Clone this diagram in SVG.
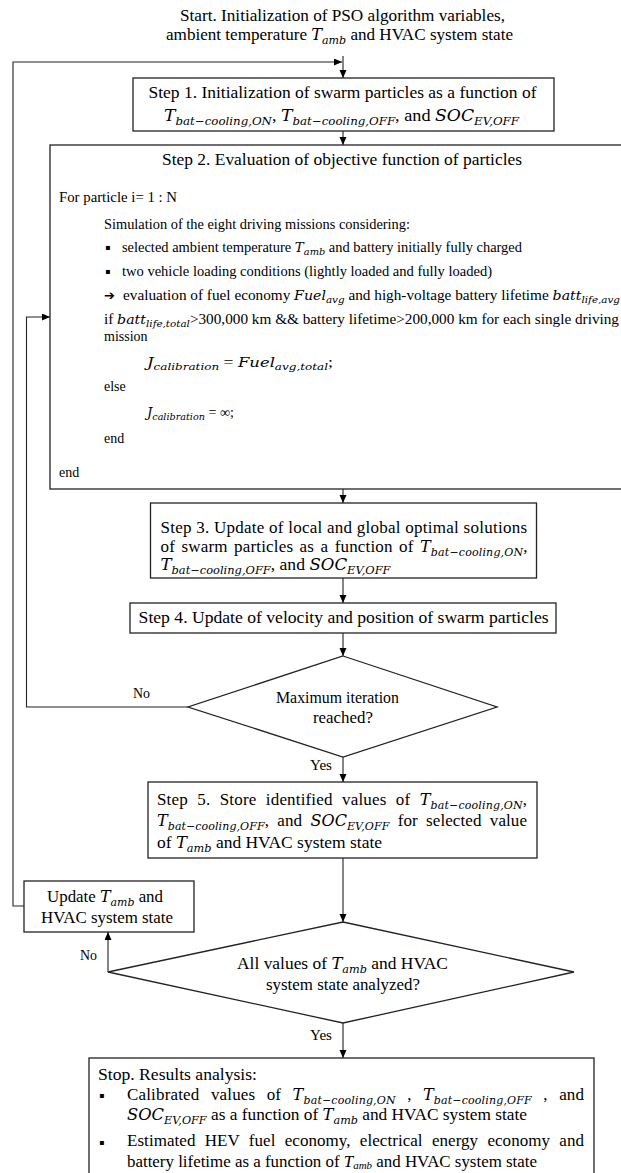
<svg xmlns="http://www.w3.org/2000/svg" width="621" height="1173" viewBox="0 0 621 1173">
<defs>
<style>
.t{font-family:"Liberation Serif","Times New Roman",serif;font-size:17px;fill:#000}
.b{font-size:14px}
.m{font-family:"DejaVu Serif","Liberation Serif",serif;font-style:italic;font-size:16px}
.s{font-family:"DejaVu Serif","Liberation Serif",serif;font-size:11px;font-style:italic}
.li{font-style:italic}
.bm{font-family:"DejaVu Serif","Liberation Serif",serif;font-style:italic;font-size:13px}
.bs{font-family:"DejaVu Serif","Liberation Serif",serif;font-size:9.5px;font-style:italic}
.bul{font-family:"DejaVu Sans",sans-serif;font-size:8px;fill:#000}
.arr{font-family:"DejaVu Sans",sans-serif;font-size:13px;font-weight:bold;fill:#000}
.box{fill:#fff;stroke:#222;stroke-width:1.3}
.ln{fill:none;stroke:#222;stroke-width:1.1}
</style>
<marker id="ah" markerWidth="9" markerHeight="8" refX="8" refY="3.5" orient="auto" markerUnits="userSpaceOnUse"><path d="M0,0 L8,3.5 L0,7 z" fill="#000"/></marker>
</defs>
<rect width="621" height="1173" fill="#fff"/>

<g id="start">
<text class="t" x="180" y="21" textLength="325" lengthAdjust="spacingAndGlyphs">Start. Initialization of PSO algorithm variables,</text>
<text class="t" x="166" y="40" textLength="347" lengthAdjust="spacingAndGlyphs">ambient temperature <tspan class="m">T</tspan><tspan class="s" dy="4">amb</tspan><tspan dy="-4"> and HVAC system state</tspan></text>
</g>

<g id="connectors">
<path class="ln" d="M343,56 L343,78" marker-end="url(#ah)"/>
<path class="ln" d="M24,906 L13,906 L13,62 L342,62" marker-end="url(#ah)"/>
<path class="ln" d="M343,131 L343,145" marker-end="url(#ah)"/>
<path class="ln" d="M343,489 L343,503" marker-end="url(#ah)"/>
<path class="ln" d="M343,578 L343,603" marker-end="url(#ah)"/>
<path class="ln" d="M343,633 L343,656" marker-end="url(#ah)"/>
<path class="ln" d="M188,707 L26.5,707 L26.5,317 L50,317" marker-end="url(#ah)"/>
<path class="ln" d="M343,757 L343,782" marker-end="url(#ah)"/>
<path class="ln" d="M343,858 L343,922" marker-end="url(#ah)"/>
<path class="ln" d="M108,972 L108,932" marker-end="url(#ah)"/>
<path class="ln" d="M343,1023 L343,1058" marker-end="url(#ah)"/>
<text class="t b" x="133" y="698" textLength="17" lengthAdjust="spacingAndGlyphs">No</text>
<text class="t b" x="310" y="770" textLength="22" lengthAdjust="spacingAndGlyphs">Yes</text>
<text class="t b" x="80" y="960" textLength="17" lengthAdjust="spacingAndGlyphs">No</text>
<text class="t b" x="310" y="1040" textLength="22" lengthAdjust="spacingAndGlyphs">Yes</text>
</g>

<g id="step1">
<rect class="box" x="133" y="78" width="421" height="53"/>
<text class="t" x="148.5" y="98" textLength="388" lengthAdjust="spacingAndGlyphs">Step 1. Initialization of swarm particles as a function of</text>
<text class="t" x="164" y="121" textLength="355" lengthAdjust="spacingAndGlyphs"><tspan class="m">T</tspan><tspan class="s" dy="4">bat−cooling,ON</tspan><tspan dy="-4">, </tspan><tspan class="m">T</tspan><tspan class="s" dy="4">bat−cooling,OFF</tspan><tspan dy="-4">, and </tspan><tspan class="m">SOC</tspan><tspan class="s" dy="4">EV,OFF</tspan></text>
</g>

<g id="step2">
<rect class="box" x="50" y="145" width="600" height="344"/>
<text class="t" x="162" y="165" textLength="360" lengthAdjust="spacingAndGlyphs">Step 2. Evaluation of objective function of particles</text>
<text class="t b" x="59" y="202" textLength="118" lengthAdjust="spacingAndGlyphs">For particle i= 1 : N</text>
<text class="t b" x="104" y="229" textLength="306" lengthAdjust="spacingAndGlyphs">Simulation of the eight driving missions considering:</text>
<text class="bul" x="105" y="250">▪</text>
<text class="t b" x="122" y="252" textLength="400" lengthAdjust="spacingAndGlyphs">selected ambient temperature <tspan class="bm">T</tspan><tspan class="bs" dy="3">amb</tspan><tspan dy="-3"> and battery initially fully charged</tspan></text>
<text class="bul" x="105" y="274">▪</text>
<text class="t b" x="122" y="276" textLength="370" lengthAdjust="spacingAndGlyphs">two vehicle loading conditions (lightly loaded and fully loaded)</text>
<text class="arr" x="104" y="300">➔</text>
<text class="t b" x="123" y="300" textLength="497" lengthAdjust="spacingAndGlyphs">evaluation of fuel economy <tspan class="bm">Fuel</tspan><tspan class="bs" dy="3">avg</tspan><tspan dy="-3"> and high-voltage battery lifetime </tspan><tspan class="bm">batt</tspan><tspan class="bs" dy="3">life,avg</tspan></text>
<text class="t b" x="104" y="324" textLength="515" lengthAdjust="spacingAndGlyphs">if  <tspan class="bm">batt</tspan><tspan class="bs" dy="3">life,total</tspan><tspan dy="-3">&gt;300,000 km &amp;&amp; battery lifetime&gt;200,000 km for each single driving</tspan></text>
<text class="t b" x="104" y="341">mission</text>
<text class="t b" x="147" y="367" textLength="186" lengthAdjust="spacingAndGlyphs"><tspan class="bm">J</tspan><tspan class="bs" dy="3">calibration</tspan><tspan dy="-3"> = </tspan><tspan class="bm">Fuel</tspan><tspan class="bs" dy="3">avg,total</tspan><tspan dy="-3">;</tspan></text>
<text class="t b" x="104" y="391">else</text>
<text class="t b" x="147" y="417" textLength="87" lengthAdjust="spacingAndGlyphs"><tspan class="bm">J</tspan><tspan class="bs" dy="3">calibration</tspan><tspan dy="-3"> = ∞;</tspan></text>
<text class="t b" x="104" y="443">end</text>
<text class="t b" x="59" y="477">end</text>
</g>

<g id="step3">
<rect class="box" x="150.5" y="503" width="386" height="75"/>
<text class="t" x="160.5" y="533" textLength="366.5" lengthAdjust="spacing">Step 3. Update of local and global optimal solutions</text>
<text class="t" x="160.5" y="552" textLength="367" lengthAdjust="spacing" word-spacing="2">of swarm particles as a function of <tspan class="m">T</tspan><tspan class="s" dy="4">bat−cooling,ON</tspan><tspan dy="-4">,</tspan></text>
<text class="t" x="160.5" y="570" textLength="230" lengthAdjust="spacingAndGlyphs"><tspan class="m">T</tspan><tspan class="s" dy="4">bat−cooling,OFF</tspan><tspan dy="-4">, and </tspan><tspan class="m">SOC</tspan><tspan class="s" dy="4">EV,OFF</tspan></text>
</g>

<g id="step4">
<rect class="box" x="130" y="603" width="426" height="30"/>
<text class="t" x="138.6" y="623" textLength="410" lengthAdjust="spacingAndGlyphs">Step 4. Update of velocity and position of swarm particles</text>
</g>

<g id="decision1">
<polygon class="box" points="343,656 497,707 343,757 188,707"/>
<text class="t" x="276" y="703" textLength="123" lengthAdjust="spacingAndGlyphs">Maximum iteration</text>
<text class="t" x="313" y="723" textLength="60" lengthAdjust="spacingAndGlyphs">reached?</text>
</g>

<g id="step5">
<rect class="box" x="148" y="782" width="389" height="76"/>
<text class="t" x="157" y="805" textLength="370" lengthAdjust="spacing" word-spacing="5">Step 5. Store identified values of <tspan class="m">T</tspan><tspan class="s" dy="4">bat−cooling,ON</tspan><tspan dy="-4">,</tspan></text>
<text class="t" x="157" y="826" textLength="370" lengthAdjust="spacing" word-spacing="4"><tspan class="m">T</tspan><tspan class="s" dy="4">bat−cooling,OFF</tspan><tspan dy="-4">, and </tspan><tspan class="m">SOC</tspan><tspan class="s" dy="4">EV,OFF</tspan><tspan dy="-4"> for selected value</tspan></text>
<text class="t" x="157" y="848" textLength="225" lengthAdjust="spacingAndGlyphs">of <tspan class="m">T</tspan><tspan class="s" dy="4">amb</tspan><tspan dy="-4"> and HVAC system state</tspan></text>
</g>

<g id="update">
<rect class="box" x="24" y="881" width="170" height="51"/>
<text class="t" x="47" y="902" textLength="116" lengthAdjust="spacingAndGlyphs">Update <tspan class="m">T</tspan><tspan class="s" dy="4">amb</tspan><tspan dy="-4"> and</tspan></text>
<text class="t" x="41" y="923" textLength="132" lengthAdjust="spacingAndGlyphs">HVAC system state</text>
</g>

<g id="decision2">
<polygon class="box" points="343,922 574,972 343,1023 108,972"/>
<text class="t" x="237" y="969" textLength="211" lengthAdjust="spacingAndGlyphs">All values of <tspan class="m">T</tspan><tspan class="s" dy="4">amb</tspan><tspan dy="-4"> and HVAC</tspan></text>
<text class="t" x="266" y="990" textLength="154" lengthAdjust="spacingAndGlyphs">system state analyzed?</text>
</g>

<g id="stop">
<rect class="box" x="89" y="1058" width="505" height="130"/>
<text class="t" x="98" y="1080" textLength="159" lengthAdjust="spacingAndGlyphs">Stop. Results analysis:</text>
<text class="bul" x="99" y="1098">▪</text>
<text class="t" x="127" y="1100" textLength="457" lengthAdjust="spacing" word-spacing="7">Calibrated values of <tspan class="m">T</tspan><tspan class="s" dy="4">bat−cooling,ON</tspan><tspan dy="-4"> , </tspan><tspan class="m">T</tspan><tspan class="s" dy="4">bat−cooling,OFF</tspan><tspan dy="-4"> , and</tspan></text>
<text class="t" x="127" y="1120" textLength="400" lengthAdjust="spacingAndGlyphs"><tspan class="m">SOC</tspan><tspan class="s" dy="4">EV,OFF</tspan><tspan dy="-4"> as a function of </tspan><tspan class="m">T</tspan><tspan class="s" dy="4">amb</tspan><tspan dy="-4"> and HVAC system state</tspan></text>
<text class="bul" x="99" y="1145">▪</text>
<text class="t" x="127" y="1146" textLength="457" lengthAdjust="spacing" word-spacing="5">Estimated HEV fuel economy, electrical energy economy and</text>
<text class="t" x="127" y="1167" textLength="410" lengthAdjust="spacingAndGlyphs">battery lifetime as a function of <tspan class="li">T</tspan><tspan class="li" style="font-size:11px" dy="2">amb</tspan><tspan dy="-2"> and HVAC system state</tspan></text>
</g>
</svg>
